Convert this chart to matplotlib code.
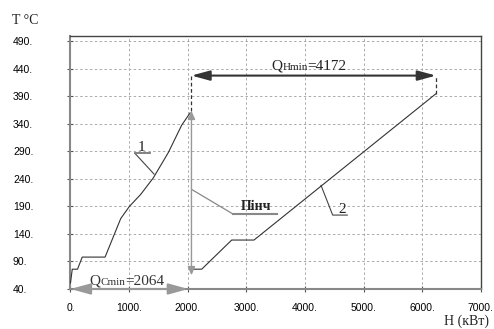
import matplotlib
matplotlib.use("Agg")
import matplotlib.pyplot as plt
from matplotlib.offsetbox import TextArea, HPacker, AnnotationBbox

# ---- data ----
H1 = [0, 30, 120, 200, 590, 857, 1004, 1198, 1413, 1669, 1898, 2040]
T1 = [51, 76, 76, 98, 98, 168, 190, 212, 242, 288, 338, 360]
H2 = [2064, 2239, 2751, 3131, 6236]
T2 = [76, 76, 129, 129, 395]
Q_C_MIN = 2064
Q_H_MIN = 4172
PINCH_H = 2064
TOP_ARROW_T = 428
xticks = [0, 1000, 2000, 3000, 4000, 5000, 6000, 7000]
yticks = [40, 90, 140, 190, 240, 290, 340, 390, 440, 490]
xtick_labels = [f"{v}." for v in xticks]
ytick_labels = [f"{v}." for v in yticks]

SERIF = ["Liberation Serif", "DejaVu Serif"]
SANS = ["Liberation Sans", "DejaVu Sans"]

fig = plt.figure(figsize=(4.94, 3.29), dpi=100)
ax = fig.add_axes([0.1427, 0.1216, 0.9731 - 0.1427, 0.8906 - 0.1216])
ax.set_xlim(0, 7000)
ax.set_ylim(40, 500)

ax.set_xticks(xticks)
ax.set_xticklabels(xtick_labels, family=SANS, fontsize=7.5)
ax.set_yticks(yticks)
ax.set_yticklabels(ytick_labels, family=SANS, fontsize=7.5, ha="left")
ax.tick_params(axis="y", direction="inout", length=4, pad=39.4, color="#555", width=0.8)
ax.tick_params(axis="x", direction="inout", length=4, pad=8, color="#555", width=0.8)

ax.grid(True, linestyle=(0, (2.5, 2.5)), color="#aaaaaa", lw=0.7)
ax.set_axisbelow(True)

for s in ["left", "bottom"]:
    ax.spines[s].set_color("#888888")
    ax.spines[s].set_linewidth(1.5)
for s in ["top", "right"]:
    ax.spines[s].set_color("#444444")
    ax.spines[s].set_linewidth(1.0)

# composite curves
ax.plot(H1, T1, color="#333333", lw=0.8, zorder=3)
ax.plot(H2, T2, color="#333333", lw=0.8, zorder=3)

# pinch vertical arrow
ax.annotate("", xy=(PINCH_H, 364), xytext=(PINCH_H, 65),
            arrowprops=dict(arrowstyle="<|-|>,head_length=0.5,head_width=0.22",
                            color="#999999", lw=1.0, shrinkA=0, shrinkB=0))

# dashed connectors to top arrow
ax.plot([PINCH_H, PINCH_H], [364, TOP_ARROW_T], color="#333333", lw=0.9, ls=(0, (3, 2)))
ax.plot([H2[-1], H2[-1]], [T2[-1], TOP_ARROW_T], color="#333333", lw=0.9, ls=(0, (3, 2)))

# QHmin arrow
ax.annotate("", xy=(PINCH_H + Q_H_MIN, TOP_ARROW_T), xytext=(PINCH_H, TOP_ARROW_T),
            arrowprops=dict(arrowstyle="<|-|>,head_length=1.1,head_width=0.3",
                            color="#333333", lw=1.5, shrinkA=0, shrinkB=0))
# QCmin arrow
ax.annotate("", xy=(2010, 40), xytext=(0, 40),
            arrowprops=dict(arrowstyle="<|-|>,head_length=1.2,head_width=0.33",
                            color="#999999", lw=1.5, shrinkA=0, shrinkB=0),
            annotation_clip=False, zorder=4)


def qlabel(x, y, sub, val, color):
    tp = dict(family=SERIF, size=11, color=color)
    ts = dict(family=SERIF, size=8, color=color)
    parts = [TextArea("Q", textprops=tp), TextArea(sub, textprops=ts),
             TextArea("=" + str(val), textprops=tp)]
    box = HPacker(children=parts, align="baseline", pad=0, sep=0)
    ab = AnnotationBbox(box, (x, y), frameon=False, box_alignment=(0.5, 0.5),
                        pad=0, annotation_clip=False)
    ab.set_zorder(5)
    ax.add_artist(ab)


qlabel(4070, 445, "Hmin", Q_H_MIN, "#222222")
qlabel(956, 54, "Cmin", Q_C_MIN, "#333333")

# label 1
ax.plot([1425, 1101], [249, 286.5], color="#444444", lw=0.8)
ax.plot([1101, 1357], [286.5, 286.5], color="#777777", lw=1.3)
ax.text(1215, 297, "1", family=SERIF, fontsize=11, ha="center", va="center", color="#222222")
# label 2
ax.plot([4275, 4474, 4724], [228.4, 174.4, 174.4], color="#444444", lw=0.8)
ax.text(4628, 185, "2", family=SERIF, fontsize=11, ha="center", va="center", color="#222222")
# pinch label
ax.plot([2068, 2778], [221, 176], color="#888888", lw=0.9)
ax.plot([2778, 3519], [176, 176], color="#888888", lw=1.5)
ax.text(3174, 190, "Пінч", family=SERIF, fontsize=10, fontweight="bold",
        ha="center", va="center", color="#222222")

# axis titles
fig.text(12 / 494, 1 - 21 / 329, "T °C", family=SERIF, fontsize=10, ha="left", va="center",
         color="#222222")
fig.text(466 / 494, 1 - 321 / 329, "H (кВт)", family=SERIF, fontsize=10, ha="center",
         va="center", color="#222222")

fig.savefig("out.png", dpi=100)
